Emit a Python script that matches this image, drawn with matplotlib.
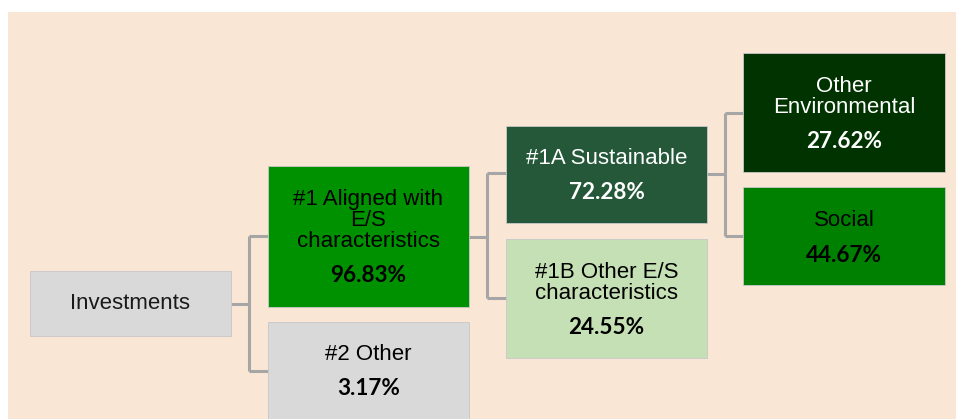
import matplotlib.pyplot as plt
from matplotlib.patches import Rectangle

# -----------------------------
# Asset allocation tree (values in %)
# -----------------------------
labels = ["Investments", "#1 Aligned with\nE/S\ncharacteristics", "#2 Other",
          "#1A Sustainable", "#1B Other E/S\ncharacteristics",
          "Other\nEnvironmental", "Social"]
shares = [None, 96.83, 3.17, 72.28, 24.55, 27.62, 44.67]
fills = ["#d9d9d9", "#009100", "#d9d9d9", "#245839", "#c5e0b4", "#003300", "#008000"]
text_colors = ["#1a1a1a", "black", "black", "white", "black", "white", "black"]

# box layout in pixels: left, top, right, bottom
boxes = [(30, 271, 231, 336), (268, 166, 469, 307), (268, 322, 469, 430),
         (506, 126, 707, 223), (506, 239, 707, 358),
         (743, 53, 945, 172), (743, 187, 945, 285)]
# y of the label block centre and of the percentage
label_y = [303, 220, 354, 158, 283, 97, 220]
pct_y = [None, 275, 388, 192, 327, 141, 255]

# connectors: (parent, children, x of vertical trunk)
links = [(0, (1, 2), 249), (1, (3, 4), 487), (3, (5, 6), 725)]
trunk_y = {0: 304, 1: 237, 3: 174}
branch_y = {1: 236, 2: 371, 3: 173, 4: 298, 5: 113, 6: 236}

fig = plt.figure(figsize=(9.56, 4.19), dpi=100)
fig.patch.set_facecolor("white")
ax = fig.add_axes([0, 0, 1, 1])
ax.set_xlim(0, 956)
ax.set_ylim(419, 0)
ax.axis("off")

ax.add_patch(Rectangle((8, 12), 948, 410, facecolor="#fae6d5", edgecolor="none", zorder=0))

line_kw = dict(color="#a6a6a6", linewidth=2.2, zorder=1, solid_capstyle="butt")
for parent, kids, xt in links:
    ax.plot([boxes[parent][2], xt], [trunk_y[parent]] * 2, **line_kw)
    ys = [branch_y[k] for k in kids]
    ax.plot([xt, xt], [min(ys), max(ys)], **line_kw)
    for k in kids:
        ax.plot([xt, boxes[k][0]], [branch_y[k]] * 2, **line_kw)

for i, (l, t, r, b) in enumerate(boxes):
    ax.add_patch(Rectangle((l, t), r - l, b - t, facecolor=fills[i],
                           edgecolor="#c8c8c8", linewidth=0.6, zorder=2))
    cx = (l + r) / 2
    ax.text(cx, label_y[i], labels[i], ha="center", va="center", multialignment="center",
            fontsize=16, family="Liberation Sans", color=text_colors[i],
            linespacing=1.0, zorder=3)
    if shares[i] is not None:
        ax.text(cx, pct_y[i], f"{shares[i]:.2f}%", ha="center", va="center",
                fontsize=16.2, fontweight="bold", family="Lato",
                color=text_colors[i], zorder=3)

fig.savefig("out.png", dpi=100)
